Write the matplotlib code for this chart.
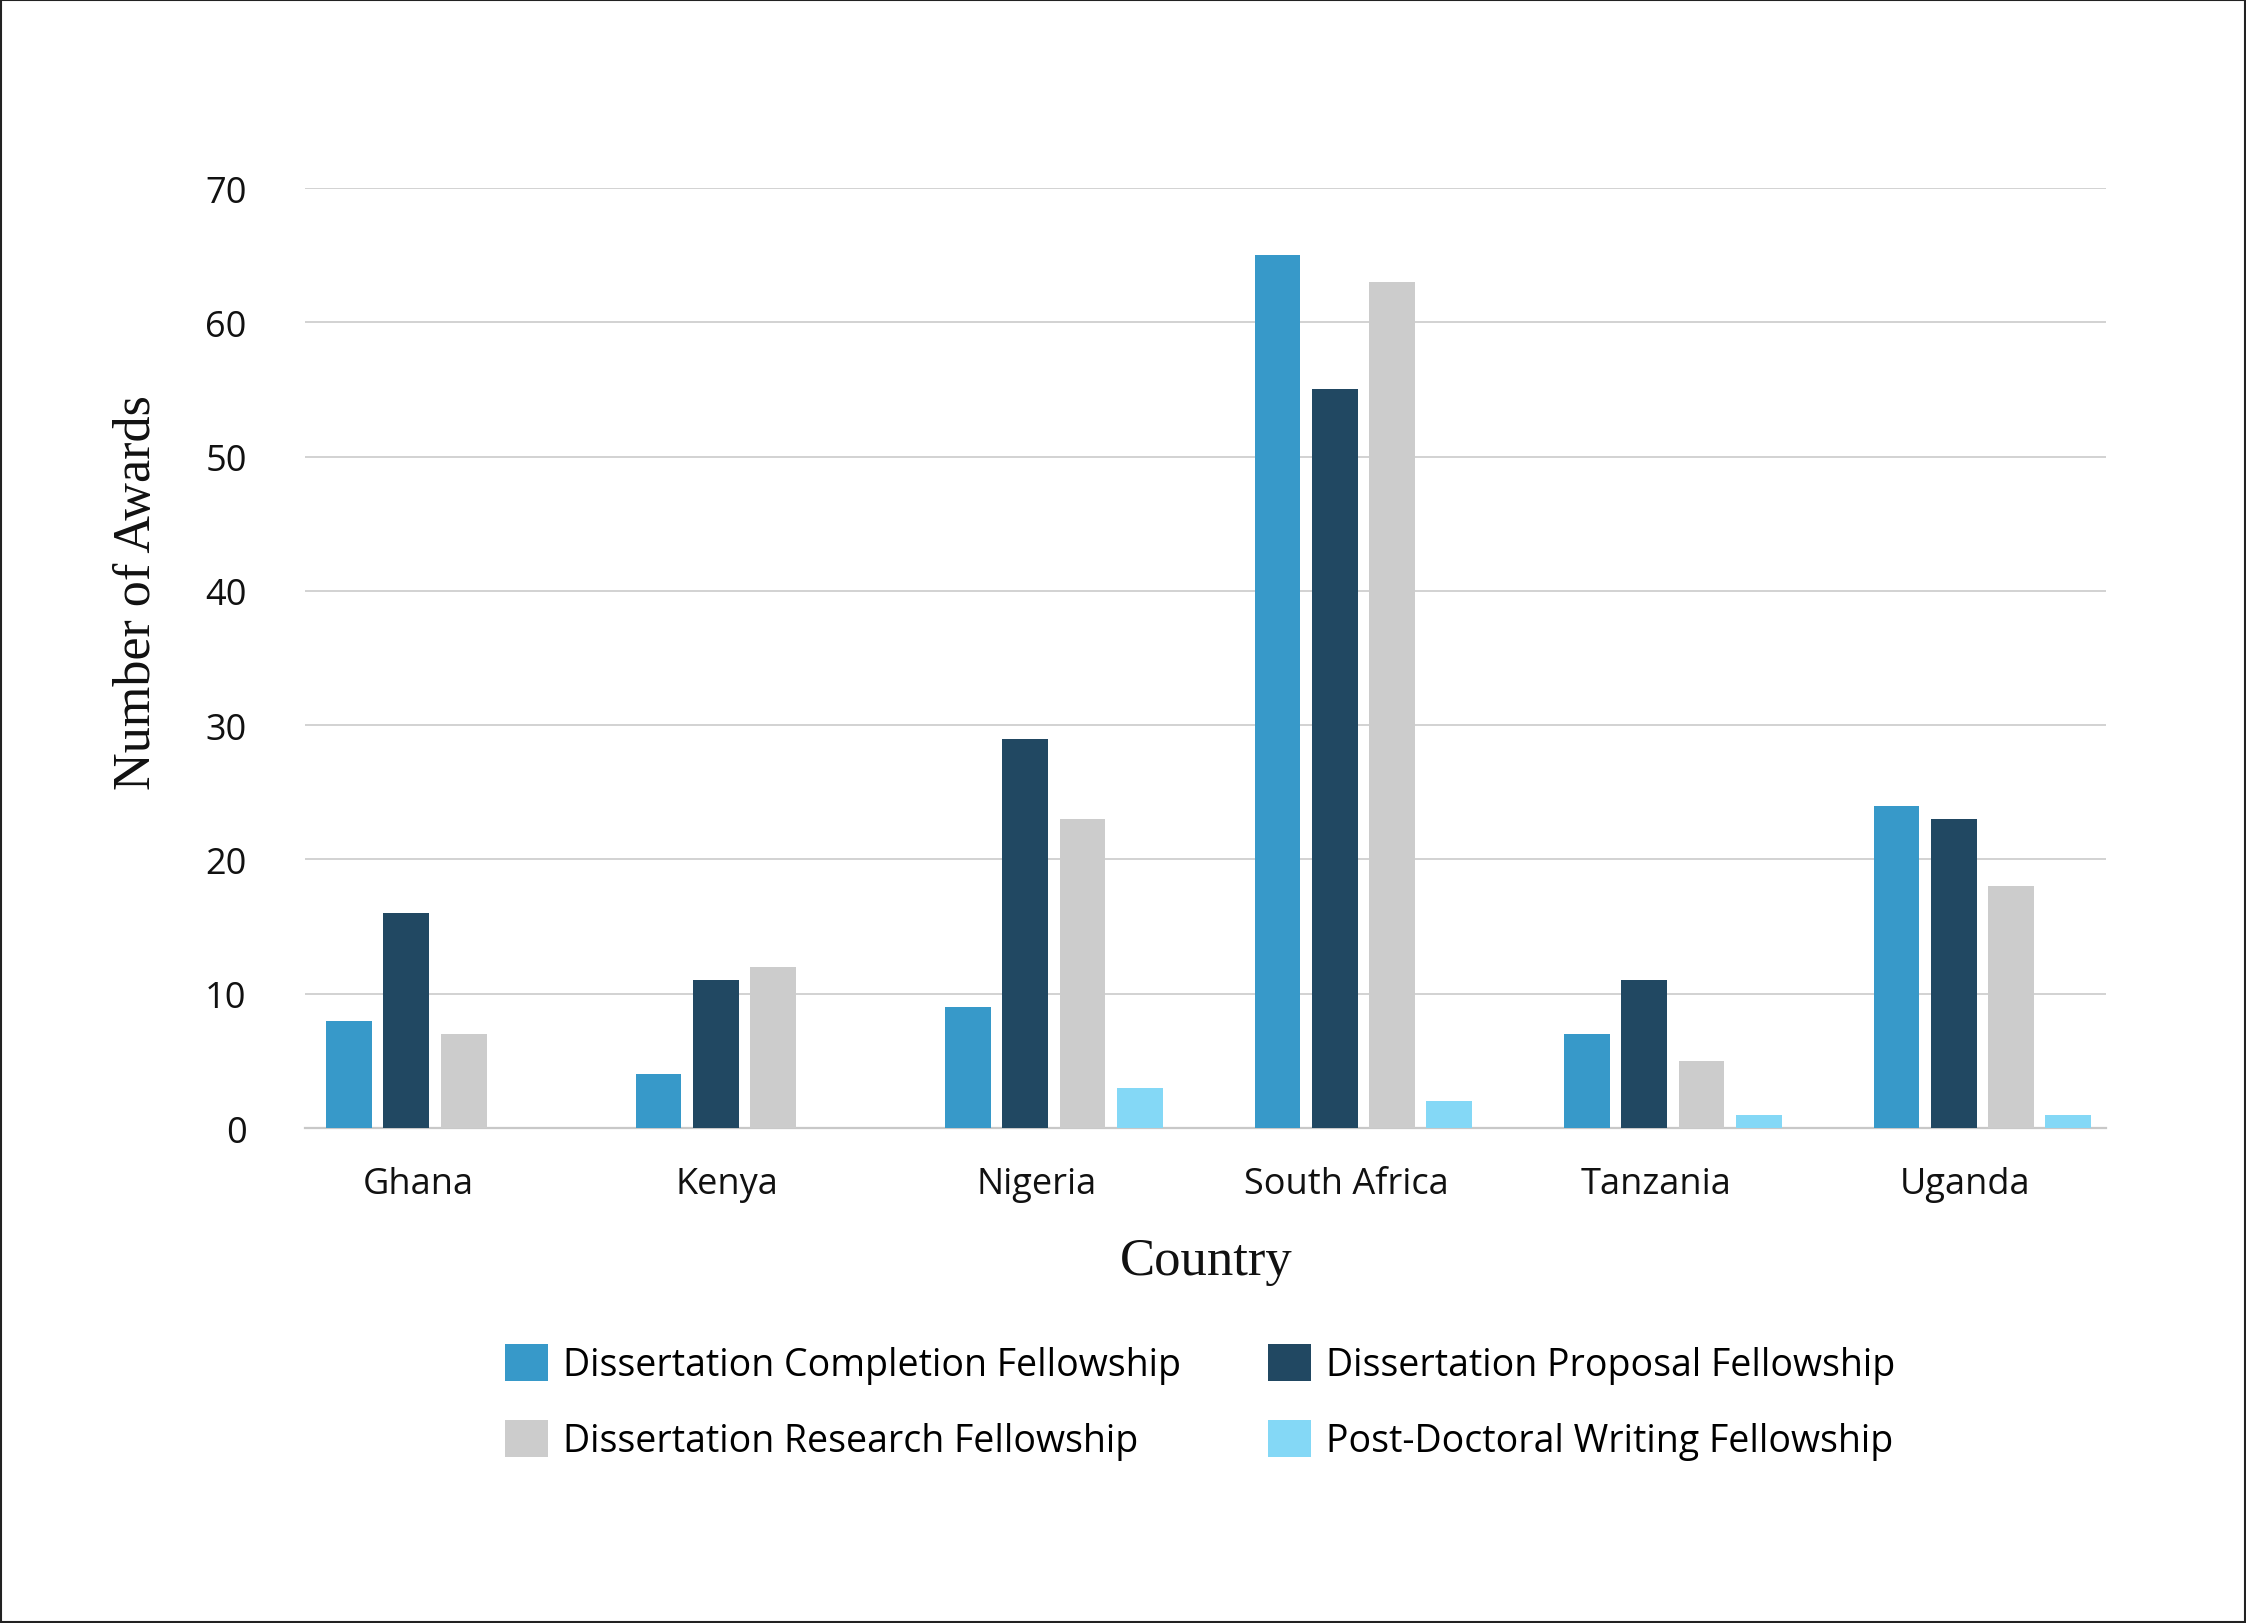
import matplotlib
matplotlib.use("Agg")
import matplotlib.pyplot as plt
import numpy as np
from matplotlib.patches import Rectangle

# Awards by country and fellowship type
countries = ['Ghana', 'Kenya', 'Nigeria', 'South Africa', 'Tanzania', 'Uganda']
series_names = ['Dissertation Completion Fellowship', 'Dissertation Proposal Fellowship',
                'Dissertation Research Fellowship', 'Post-Doctoral Writing Fellowship']
completion = [8, 4, 9, 65, 7, 24]
proposal = [16, 11, 29, 55, 11, 23]
research = [7, 12, 23, 63, 5, 18]
postdoc = [0, 0, 3, 2, 1, 1]
colors = ['#3799C9', '#214862', '#CCCCCC', '#84D8F6']
yticks = [0, 10, 20, 30, 40, 50, 60, 70]

values = [completion, proposal, research, postdoc]

plt.rcParams['font.family'] = ['Open Sans', 'DejaVu Sans']

fig = plt.figure(figsize=(22.46, 16.24), dpi=100)
ax = fig.add_axes([0.1358, 0.3048, 0.8019, 0.5788])

x = np.arange(len(countries))
slot = 0.185
width = 0.148
handles = []
for i, (vals, c, name) in enumerate(zip(values, colors, series_names)):
    b = ax.bar(x + (i - 1.5) * slot, vals, width, color=c, label=name, zorder=3)
    handles.append(b)

ax.set_xlim(-0.42, 5.40)
ax.set_ylim(0, 70)
ax.set_yticks(yticks)
# category labels sit a little left of the group centre in the original
ax.set_xticks(x - 0.055)
ax.set_xticklabels(countries)
ax.grid(axis='y', color='#d2d2d2', linewidth=1.4, zorder=0)
ax.set_axisbelow(True)
for s in ['top', 'right', 'left']:
    ax.spines[s].set_visible(False)
ax.spines['bottom'].set_color('#c8c8c8')
ax.spines['bottom'].set_linewidth(1.6)
ax.tick_params(axis='both', length=0, labelsize=26, colors='#111111')
ax.tick_params(axis='y', pad=42)
ax.tick_params(axis='x', pad=27)

fig.text(137 / 2246, 1 - 593 / 1624, 'Number of Awards', rotation=90, ha='center', va='center',
         fontsize=37.5, family=['Liberation Serif', 'DejaVu Serif'], color='#111111')
fig.text(1206 / 2246, 1 - 1262 / 1624, 'Country', ha='center', va='center',
         fontsize=38, family=['Liberation Serif', 'DejaVu Serif'], color='#111111')

# matplotlib fills legend columns first; reorder so rows read like the original
order = [0, 2, 1, 3]
leg = fig.legend(handles=[handles[i] for i in order], labels=[series_names[i] for i in order],
                 ncol=2, loc='center', bbox_to_anchor=(1200 / 2246, 1 - 1403 / 1624), frameon=False,
                 fontsize=27, handlelength=1.15, handleheight=1.15, handletextpad=0.4,
                 columnspacing=2.3, labelspacing=0.95)

# thin frame round the whole picture
fig.patches.append(Rectangle((0.0005, 0.0007), 0.999, 0.9986, transform=fig.transFigure,
                             fill=False, edgecolor='#222222', linewidth=1.5))

fig.savefig('out.png', dpi=100, facecolor='white')
